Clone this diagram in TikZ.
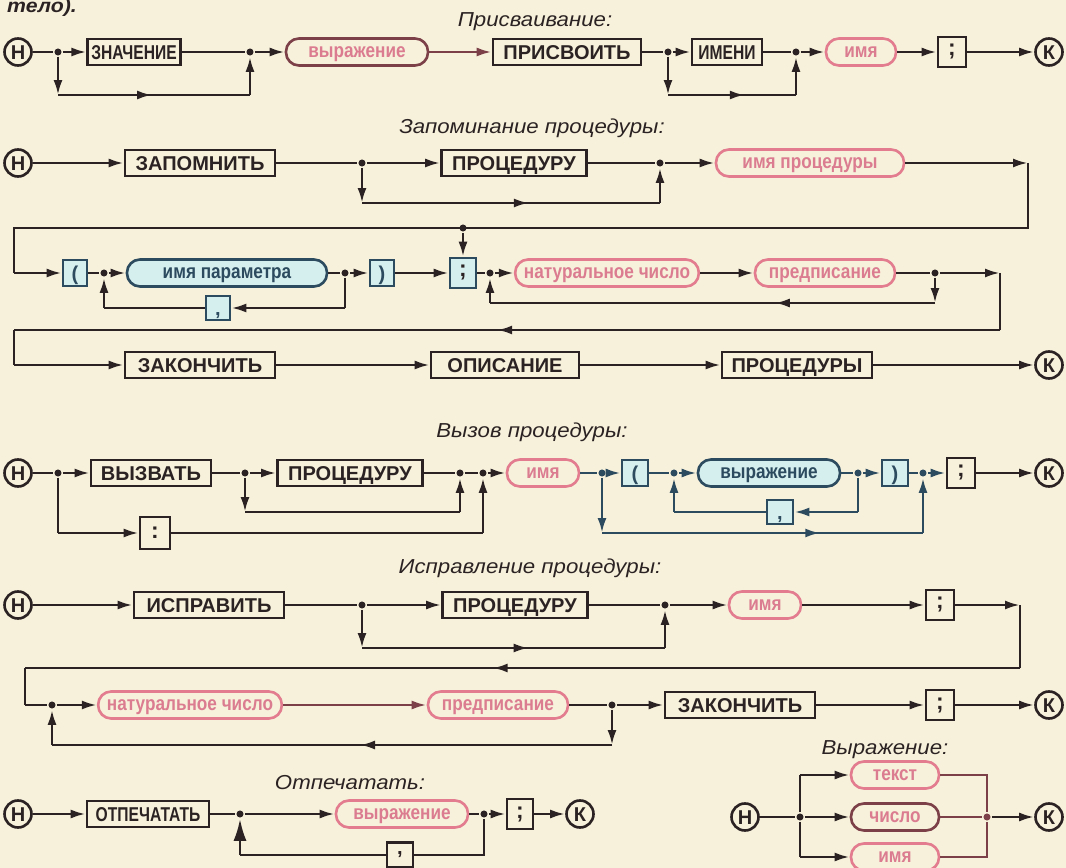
\documentclass[tikz,border=0pt]{standalone}
\usepackage{fontspec}
\setmainfont{Liberation Sans}
\newfontfamily\narrowfont{Liberation Sans}[FakeStretch=0.78]
\newfontfamily\pillfont{Liberation Sans}[FakeStretch=0.85]
\newfontfamily\headfont{Liberation Sans}[FakeStretch=1.1]
\usetikzlibrary{arrows.meta,positioning,decorations.markings}

\definecolor{paper}{HTML}{F7F1DB}
\definecolor{ink}{HTML}{2B2323}
\definecolor{rose}{HTML}{E27C8E}
\definecolor{rosetext}{HTML}{DB7C90}
\definecolor{wine}{HTML}{7C4049}
\definecolor{slate}{HTML}{2D4B5F}
\definecolor{aqua}{HTML}{D5EEEE}

\tikzset{
    box/.style={rectangle, draw=ink, fill=paper, text=ink, minimum height=0.52cm,
        inner xsep=2pt, inner ysep=1pt, text height=8.2pt, text depth=0pt,
        font=\bfseries\fontsize{11.4}{13}\selectfont},
    narrow/.style={font=\narrowfont\bfseries\fontsize{11.4}{13}\selectfont},
    wd/.style={minimum width=#1*0.02cm},
    semi/.style={box, minimum height=0.6cm, text height=, text depth=,
        font=\bfseries\fontsize{13}{13}\selectfont},
    bbox/.style={box, draw=slate, fill=aqua, text=slate},
    pill/.style={rectangle, rounded corners=0.26cm, draw=rose, fill=paper, text=rosetext,
        minimum height=0.54cm, inner xsep=5pt, text height=5.9pt, text depth=0pt,
        font=\pillfont\bfseries\fontsize{11.5}{12}\selectfont},
    darkpill/.style={pill, draw=wine},
    bpill/.style={pill, draw=slate, fill=aqua, text=slate},
    term/.style={circle, draw=ink, fill=paper, text=ink, minimum size=0.54cm, inner sep=0pt,
        text height=8pt, text depth=0pt, font=\bfseries\fontsize{11.4}{12}\selectfont},
    dot/.style={circle, fill=ink, inner sep=0pt, minimum size=4pt},
    heading/.style={text=ink, font=\headfont\itshape\fontsize{11.5}{13}\selectfont},
    arrow/.style={-{Latex[length=3mm,width=1.8mm]}},
    bigarrow/.style={-{Latex[length=4.4mm,width=2.6mm]}},
    mid/.style={postaction={decorate}, decoration={markings,
        mark=at position #1 with {\arrow{Latex[length=3mm,width=1.8mm]}}}},
    mid/.default=0.5
}

\begin{document}
\begin{tikzpicture}[x=0.02cm, y=-0.02cm, line width=1.5pt, color=ink]
\fill[paper] (0,0) rectangle (1066,868);
\useasboundingbox (0,0) rectangle (1066,868);

\node[heading, font=\headfont\bfseries\itshape\fontsize{11}{13}\selectfont, anchor=base west] (prev) at (0,13) {тело).};

% Присваивание
\node[heading] (cap1) at (535,22) {Присваивание:};
\node[term] (h1) at (18,52) {Н};
\node[dot] (j11) at (58,52) {};
\node[box, narrow, wd=92] (znach) at (134,52) {ЗНАЧЕНИЕ};
\node[dot] (j12) at (250,52) {};
\node[darkpill, wd=142] (vyr1) at (357,52) {выражение};
\node[box, wd=148] (pris) at (567,52) {ПРИСВОИТЬ};
\node[dot] (j13) at (668,52) {};
\node[box, narrow, wd=70] (imeni) at (727,52) {ИМЕНИ};
\node[dot] (j14) at (796,52) {};
\node[pill, wd=70] (imya1) at (861,52) {имя};
\node[semi, wd=28] (sc1) at (952,52) {;};
\node[term] (k1) at (1049,52) {К};
\coordinate (b11) at (58,95);
\coordinate (b12) at (250,95);
\coordinate (b13) at (668,95);
\coordinate (b14) at (796,95);

\draw (h1) -- (j11);
\draw[arrow] (j11) -- (znach);
\draw (znach) -- (j12);
\draw[arrow] (j12) -- (vyr1);
\draw[arrow, wine] (vyr1) -- (pris);
\draw (pris) -- (j13);
\draw[arrow] (j13) -- (imeni);
\draw (imeni) -- (j14);
\draw[arrow] (j14) -- (imya1);
\draw[arrow] (imya1) -- (sc1);
\draw[arrow] (sc1) -- (k1);
\draw[arrow] (j11) -- (b11);
\draw[mid=0.49] (b11) -- (b12);
\draw[arrow] (b12) -- (j12);
\draw[arrow] (j13) -- (b13);
\draw[mid=0.6] (b13) -- (b14);
\draw[arrow] (b14) -- (j14);

% Запоминание процедуры
\node[heading] (cap2) at (532,128) {Запоминание процедуры:};
\node[term] (h2) at (18,163) {Н};
\node[box, wd=150] (zap) at (200,163) {ЗАПОМНИТЬ};
\node[dot] (j21) at (362,163) {};
\node[box, wd=145] (proc2) at (514,163) {ПРОЦЕДУРУ};
\node[dot] (j22) at (660,163) {};
\node[pill, wd=188] (impr) at (810,163) {имя процедуры};
\coordinate (b21) at (362,203);
\coordinate (b22) at (660,203);
\coordinate (r21) at (1028,163);
\coordinate (r22) at (1028,228);
\coordinate (r23) at (14,228);
\coordinate (r24) at (14,273);
\node[dot] (j31) at (463,228) {};

\draw[arrow] (h2) -- (zap);
\draw (zap) -- (j21);
\draw[arrow] (j21) -- (proc2);
\draw (proc2) -- (j22);
\draw[arrow] (j22) -- (impr);
\draw[arrow] (impr) -- (r21);
\draw (r21) -- (r22) -- (r23) -- (r24);
\draw[arrow] (j21) -- (b21);
\draw[mid=0.56] (b21) -- (b22);
\draw[arrow] (b22) -- (j22);

\node[bbox, wd=24] (lp3) at (75,273) {(};
\node[dot] (j32) at (104,273) {};
\node[bpill, wd=200] (ipar) at (227,273) {имя параметра};
\node[dot] (j33) at (345,273) {};
\node[bbox, wd=24] (rp3) at (382,273) {)};
\node[semi, wd=26, draw=slate, fill=aqua] (sc3) at (463,273) {;};
\node[dot] (j34) at (490,273) {};
\node[pill, wd=176] (nat3) at (607,273) {натуральное число};
\node[pill, wd=140] (pred3) at (825,273) {предписание};
\node[dot] (j35) at (935,273) {};
\node[bbox, wd=24, minimum height=0.48cm] (cm3) at (218,308) {,};
\coordinate (c31) at (345,308);
\coordinate (c32) at (104,308);
\coordinate (n31) at (935,303);
\coordinate (n32) at (490,303);
\coordinate (r31) at (1000,273);
\coordinate (r32) at (1000,330);
\coordinate (r33) at (14,330);
\coordinate (r34) at (14,365);

\draw[arrow] (r24) -- (lp3);
\draw (lp3) -- (j32);
\draw[arrow] (j32) -- (ipar);
\draw (ipar) -- (j33);
\draw[arrow] (j33) -- (rp3);
\draw[arrow] (rp3) -- (sc3);
\draw[arrow] (j31) -- (sc3);
\draw (sc3) -- (j34);
\draw[arrow] (j34) -- (nat3);
\draw[arrow] (nat3) -- (pred3);
\draw (pred3) -- (j35);
\draw[arrow] (j35) -- (r31);
\draw (j33) -- (c31);
\draw[arrow] (c31) -- (cm3);
\draw (cm3) -- (c32);
\draw[arrow] (c32) -- (j32);
\draw[arrow] (j35) -- (n31);
\draw[mid=0.36] (n31) -- (n32);
\draw[arrow] (n32) -- (j34);
\draw (r31) -- (r32);
\draw[mid=0.51] (r32) -- (r33);
\draw (r33) -- (r34);

\node[box, wd=150] (zak4) at (200,365) {ЗАКОНЧИТЬ};
\node[box, wd=148] (opis) at (505,365) {ОПИСАНИЕ};
\node[box, wd=150] (procy) at (797,365) {ПРОЦЕДУРЫ};
\node[term] (k4) at (1049,365) {К};
\draw[arrow] (r34) -- (zak4);
\draw[arrow] (zak4) -- (opis);
\draw[arrow] (opis) -- (procy);
\draw[arrow] (procy) -- (k4);

% Вызов процедуры
\node[heading] (cap3) at (532,432) {Вызов процедуры:};
\node[term] (h5) at (18,473) {Н};
\node[dot] (j51) at (58,473) {};
\node[box, wd=120] (vyz) at (151,473) {ВЫЗВАТЬ};
\node[dot] (j52) at (245,473) {};
\node[box, wd=145] (proc5) at (350,473) {ПРОЦЕДУРУ};
\node[dot] (j53) at (460,473) {};
\node[dot] (j54) at (483,473) {};
\node[pill, wd=72] (imya5) at (543,473) {имя};
\node[dot, fill=slate] (j55) at (602,473) {};
\node[bbox, wd=26] (lp5) at (635,473) {(};
\node[dot, fill=slate] (j56) at (674,473) {};
\node[bpill, wd=142] (vyr5) at (769,473) {выражение};
\node[dot, fill=slate] (j57) at (858,473) {};
\node[bbox, wd=26] (rp5) at (895,473) {)};
\node[dot, fill=slate] (j58) at (923,473) {};
\node[semi, wd=28] (sc5) at (961,473) {;};
\node[term] (k5) at (1049,473) {К};
\node[semi, wd=30, minimum height=0.64cm] (col5) at (155,533) {:};
\node[bbox, wd=26, minimum height=0.48cm] (cm5) at (780,512) {,};
\coordinate (b51) at (245,512);
\coordinate (b52) at (460,512);
\coordinate (b53) at (58,533);
\coordinate (b54) at (483,533);
\coordinate (b55) at (858,512);
\coordinate (b56) at (674,512);
\coordinate (b57) at (602,533);
\coordinate (b58) at (923,533);

\draw (h5) -- (j51);
\draw[arrow] (j51) -- (vyz);
\draw (vyz) -- (j52);
\draw[arrow] (j52) -- (proc5);
\draw (proc5) -- (j53) -- (j54);
\draw[arrow] (j54) -- (imya5);
\draw[arrow] (j52) -- (b51);
\draw (b51) -- (b52);
\draw[arrow] (b52) -- (j53);
\draw (j51) -- (b53);
\draw[arrow] (b53) -- (col5);
\draw (col5) -- (b54);
\draw[arrow] (b54) -- (j54);
\begin{scope}[slate]
\draw (imya5) -- (j55);
\draw[arrow] (j55) -- (lp5);
\draw (lp5) -- (j56);
\draw[arrow] (j56) -- (vyr5);
\draw (vyr5) -- (j57);
\draw[arrow] (j57) -- (rp5);
\draw (rp5) -- (j58);
\draw[arrow] (j58) -- (sc5);
\draw (j57) -- (b55);
\draw[arrow] (b55) -- (cm5);
\draw (cm5) -- (b56);
\draw[arrow] (b56) -- (j56);
\draw[arrow] (j55) -- (b57);
\draw[mid=0.68] (b57) -- (b58);
\draw[arrow] (b58) -- (j58);
\end{scope}
\draw[arrow] (sc5) -- (k5);

% Исправление процедуры
\node[heading] (cap4) at (530,568) {Исправление процедуры:};
\node[term] (h6) at (18,605) {Н};
\node[box, wd=150] (ispr) at (209,605) {ИСПРАВИТЬ};
\node[dot] (j61) at (362,605) {};
\node[box, wd=145] (proc6) at (515,605) {ПРОЦЕДУРУ};
\node[dot] (j62) at (665,605) {};
\node[pill, wd=72] (imya6) at (765,605) {имя};
\node[semi, wd=28] (sc6) at (940,605) {;};
\coordinate (b61) at (362,648);
\coordinate (b62) at (665,648);
\coordinate (r61) at (1020,605);
\coordinate (r62) at (1020,668);
\coordinate (r63) at (25,668);
\coordinate (r64) at (25,705);

\draw[arrow] (h6) -- (ispr);
\draw (ispr) -- (j61);
\draw[arrow] (j61) -- (proc6);
\draw (proc6) -- (j62);
\draw[arrow] (j62) -- (imya6);
\draw[arrow] (imya6) -- (sc6);
\draw[arrow] (sc6) -- (r61);
\draw[arrow] (j61) -- (b61);
\draw[mid=0.55] (b61) -- (b62);
\draw[arrow] (b62) -- (j62);
\draw (r61) -- (r62);
\draw[mid=0.53] (r62) -- (r63);
\draw (r63) -- (r64);

\node[dot] (j71) at (52,705) {};
\node[pill, wd=182] (nat7) at (190,705) {натуральное число};
\node[pill, wd=140] (pred7) at (498,705) {предписание};
\node[dot] (j72) at (612,705) {};
\node[box, wd=150] (zak7) at (740,705) {ЗАКОНЧИТЬ};
\node[semi, wd=28] (sc7) at (940,705) {;};
\node[term] (k7) at (1049,705) {К};
\coordinate (b71) at (612,745);
\coordinate (b72) at (52,745);

\draw (r64) -- (j71);
\draw[arrow] (j71) -- (nat7);
\draw[arrow, wine] (nat7) -- (pred7);
\draw (pred7) -- (j72);
\draw[arrow] (j72) -- (zak7);
\draw[arrow] (zak7) -- (sc7);
\draw[arrow] (sc7) -- (k7);
\draw[arrow] (j72) -- (b71);
\draw[mid=0.45] (b71) -- (b72);
\draw[arrow] (b72) -- (j71);

% Отпечатать
\node[heading] (cap5) at (350,783) {Отпечатать:};
\node[term] (h8) at (18,814) {Н};
\node[box, narrow, wd=122] (otp) at (148,814) {ОТПЕЧАТАТЬ};
\node[dot] (j81) at (240,814) {};
\node[pill, wd=132] (vyr8) at (402,814) {выражение};
\node[dot] (j82) at (484,814) {};
\node[semi, wd=26] (sc8) at (520,814) {;};
\node[term] (k8) at (580,814) {К};
\node[box, wd=26, minimum height=0.5cm, text height=, text depth=] (cm8) at (400,855) {,};
\coordinate (b81) at (484,855);
\coordinate (b82) at (240,855);

\draw[arrow] (h8) -- (otp);
\draw (otp) -- (j81);
\draw[arrow] (j81) -- (vyr8);
\draw (vyr8) -- (j82);
\draw[arrow] (j82) -- (sc8);
\draw[arrow] (sc8) -- (k8);
\draw (j82) -- (b81) -- (cm8);
\draw (cm8) -- (b82);
\draw[bigarrow] (b82) -- (j81);

% Выражение
\node[heading] (cap6) at (885,750) {Выражение:};
\node[term] (h9) at (745,817) {Н};
\node[dot] (j91) at (800,817) {};
\node[pill, wd=88] (tekst) at (895,775) {текст};
\node[darkpill, wd=88] (chislo) at (895,817) {число};
\node[pill, wd=88] (imya9) at (895,857) {имя};
\node[dot, fill=wine] (j92) at (987,817) {};
\node[term] (k9) at (1049,817) {К};
\coordinate (t91) at (800,775);
\coordinate (t92) at (800,857);

\draw (h9) -- (j91);
\draw[arrow] (j91) -- (chislo);
\draw (j91) -- (t91);
\draw[arrow] (t91) -- (tekst);
\draw (j91) -- (t92);
\draw[arrow] (t92) -- (imya9);
\draw[wine] (tekst) -| (j92);
\draw[wine] (imya9) -| (j92);
\draw[wine] (chislo) -- (j92);
\draw[arrow] (j92) -- (k9);
\end{tikzpicture}
\end{document}
